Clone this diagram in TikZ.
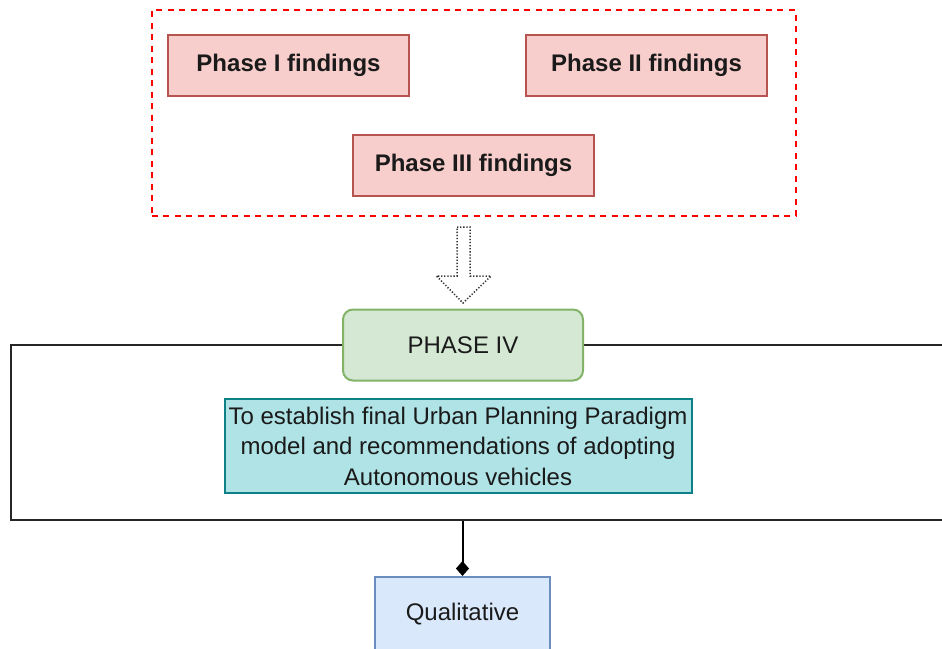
\documentclass[tikz,border=0pt]{standalone}
\usepackage{fontspec}
\setmainfont{Liberation Sans}
\usetikzlibrary{arrows.meta}

\definecolor{findfill}{HTML}{F8CECC}
\definecolor{findline}{HTML}{B85450}
\definecolor{phasefill}{HTML}{D5E8D4}
\definecolor{phaseline}{HTML}{82B366}
\definecolor{aimfill}{HTML}{B0E3E6}
\definecolor{aimline}{HTML}{0E8088}
\definecolor{methfill}{HTML}{DAE8FC}
\definecolor{methline}{HTML}{6C8EBF}
\definecolor{txt}{HTML}{1A1A1A}

\tikzset{
  base/.style={inner sep=0pt, align=center, text=txt,
    font=\fontsize{24}{30.5}\selectfont, line width=2pt},
  finding/.style={base, draw=findline, fill=findfill,
    minimum width=241pt, minimum height=61pt, font=\fontsize{24}{30.5}\selectfont\bfseries},
  phasebox/.style={base, draw=phaseline, fill=phasefill, rounded corners=10pt,
    minimum width=240pt, minimum height=71pt},
  aimbox/.style={base, draw=aimline, fill=aimfill,
    minimum width=467pt, minimum height=94pt},
  methbox/.style={base, draw=methline, fill=methfill,
    minimum width=175pt, minimum height=75pt},
  group/.style={draw=red, dash pattern=on 6pt off 5.5pt, line width=2pt,
    minimum width=644pt, minimum height=206pt, inner sep=0pt},
  frame/.style={draw=black!85, line width=2.2pt, fill=none,
    minimum width=939pt, minimum height=175pt, inner sep=0pt},
  link/.style={draw=black, line width=2pt},
}

\begin{document}
\begin{tikzpicture}[x=1pt, y=-1pt]
  \useasboundingbox (0,0) rectangle (942,648);
  \clip (0,0) rectangle (942,648);
  \fill[white] (0,0) rectangle (942,648);

  % findings of the earlier phases, grouped
  \node[group] (grp) at (473.5,113) {};
  \node[finding] (p1) at (288.5,65) {Phase I findings};
  \node[finding] (p2) at (646.5,65) {Phase II findings};
  \node[finding] (p3) at (473.5,165.5) {Phase III findings};

  % hollow block arrow down into phase IV
  \draw[black!80, line width=1.5pt, dash pattern=on 1.3pt off 1.8pt, fill=white]
    (457,227) -- (470,227) -- (470,276) -- (491,276) -- (463,303)
    -- (436.5,276) -- (457,276) -- cycle;

  % phase IV frame
  \node[frame] (frm) at (480.5,432.5) {};
  \node[phasebox] (p4) at (463,345) {PHASE IV};
  \node[aimbox] (aim) at (458,446) {To establish final Urban Planning Paradigm\\
    model and recommendations of adopting\\ Autonomous vehicles};

  % method
  \node[methbox] (qual) at (462.5,614.5) {Qualitative};
  \draw[link, -{Diamond[length=15pt, width=13pt]}]
    (qual.north |- frm.south) -- (qual.north);
\end{tikzpicture}
\end{document}
